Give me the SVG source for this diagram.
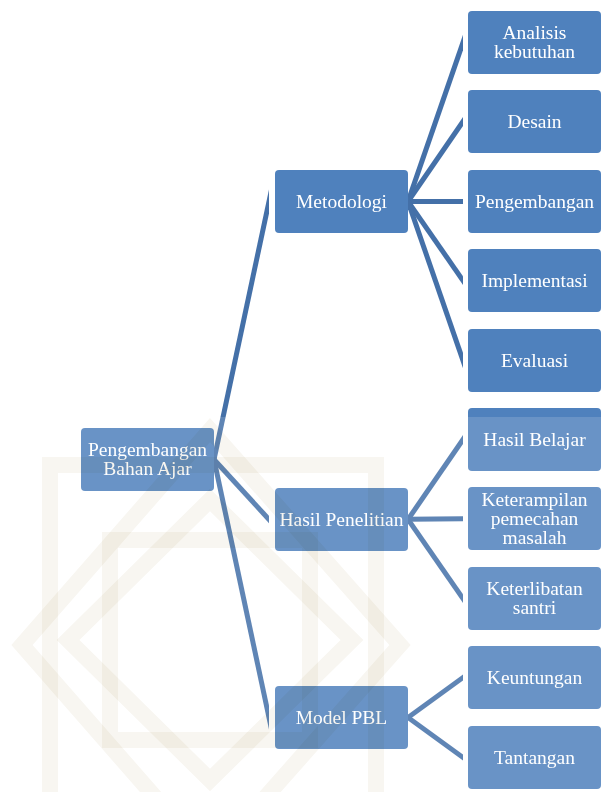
<svg xmlns="http://www.w3.org/2000/svg" width="605" height="792" viewBox="0 0 605 792">
<defs>
<clipPath id="clipA"><rect x="214" y="0" width="55" height="792"/></clipPath>
<clipPath id="clipB"><rect x="408" y="0" width="55" height="792"/></clipPath>
</defs>
<style>
.box{fill:#4f81bd;}
.lbl{font-family:"Liberation Serif","Times New Roman",serif;font-size:19.5px;fill:#ffffff;text-anchor:middle;}
.con{stroke:#4470a8;stroke-width:5;fill:none;}
.wm{fill:none;stroke:#f8f6f1;stroke-width:16;mix-blend-mode:multiply;}
</style>
<rect x="0" y="0" width="605" height="792" fill="#ffffff"/>
<g id="connectors">
<g clip-path="url(#clipA)">
<line class="con" x1="204" y1="506.4" x2="279" y2="154.6"/>
<line class="con" x1="204" y1="448.6" x2="279" y2="530.4"/>
<line class="con" x1="204" y1="412.6" x2="279" y2="764.4"/>
</g>
<g clip-path="url(#clipB)">
<line class="con" x1="398" y1="230.4" x2="473" y2="13.6"/>
<line class="con" x1="398" y1="216.0" x2="473" y2="107.0"/>
<line class="con" x1="398" y1="201.5" x2="473" y2="201.5"/>
<line class="con" x1="398" y1="187.1" x2="473" y2="294.9"/>
<line class="con" x1="398" y1="172.6" x2="473" y2="389.4"/>
<line class="con" x1="398" y1="534.0" x2="473" y2="425.0"/>
<line class="con" x1="398" y1="519.5" x2="473" y2="518.5"/>
<line class="con" x1="398" y1="505.1" x2="473" y2="612.9"/>
<line class="con" x1="398" y1="724.8" x2="473" y2="670.2"/>
<line class="con" x1="398" y1="710.2" x2="473" y2="764.8"/>
</g>
</g>
<g id="root"><rect class="box" x="81" y="428" width="133" height="63" rx="4"/><text class="lbl" x="147.5" y="455.5">Pengembangan</text><text class="lbl" x="147.5" y="474.5">Bahan Ajar</text></g>
<g id="metodologi"><rect class="box" x="275" y="170" width="133" height="63" rx="4"/><text class="lbl" x="341.5" y="208">Metodologi</text></g>
<g id="hasil-penelitian"><rect class="box" x="275" y="488" width="133" height="63" rx="4"/><text class="lbl" x="341.5" y="526">Hasil Penelitian</text></g>
<g id="model-pbl"><rect class="box" x="275" y="686" width="133" height="63" rx="4"/><text class="lbl" x="341.5" y="724">Model PBL</text></g>
<g id="analisis"><rect class="box" x="468" y="11" width="133" height="63" rx="4"/><text class="lbl" x="534.5" y="39">Analisis</text><text class="lbl" x="534.5" y="58">kebutuhan</text></g>
<g id="desain"><rect class="box" x="468" y="90" width="133" height="63" rx="4"/><text class="lbl" x="534.5" y="128">Desain</text></g>
<g id="pengembangan"><rect class="box" x="468" y="170" width="133" height="63" rx="4"/><text class="lbl" x="534.5" y="208">Pengembangan</text></g>
<g id="implementasi"><rect class="box" x="468" y="249" width="133" height="63" rx="4"/><text class="lbl" x="534.5" y="287">Implementasi</text></g>
<g id="evaluasi"><rect class="box" x="468" y="329" width="133" height="63" rx="4"/><text class="lbl" x="534.5" y="367">Evaluasi</text></g>
<g id="hasil-belajar"><rect class="box" x="468" y="408" width="133" height="63" rx="4"/><text class="lbl" x="534.5" y="446">Hasil Belajar</text></g>
<g id="keterampilan"><rect class="box" x="468" y="487" width="133" height="63" rx="4"/><text class="lbl" x="534.5" y="505.5">Keterampilan</text><text class="lbl" x="534.5" y="524.5">pemecahan</text><text class="lbl" x="534.5" y="543.5">masalah</text></g>
<g id="keterlibatan"><rect class="box" x="468" y="567" width="133" height="63" rx="4"/><text class="lbl" x="534.5" y="595">Keterlibatan</text><text class="lbl" x="534.5" y="614">santri</text></g>
<g id="keuntungan"><rect class="box" x="468" y="646" width="133" height="63" rx="4"/><text class="lbl" x="534.5" y="684">Keuntungan</text></g>
<g id="tantangan"><rect class="box" x="468" y="726" width="133" height="63" rx="4"/><text class="lbl" x="534.5" y="764">Tantangan</text></g>
<rect x="0" y="417" width="605" height="375" fill="#ffffff" opacity="0.15"/>
<g id="watermark">
<rect class="wm" x="50" y="465" width="326" height="340"/>
<polygon class="wm" points="210,430 400,645 210,860 22,645"/>
<rect class="wm" x="110" y="540" width="200" height="200"/>
<polygon class="wm" points="210,500 352,640 210,780 68,640"/>
</g>
</svg>
